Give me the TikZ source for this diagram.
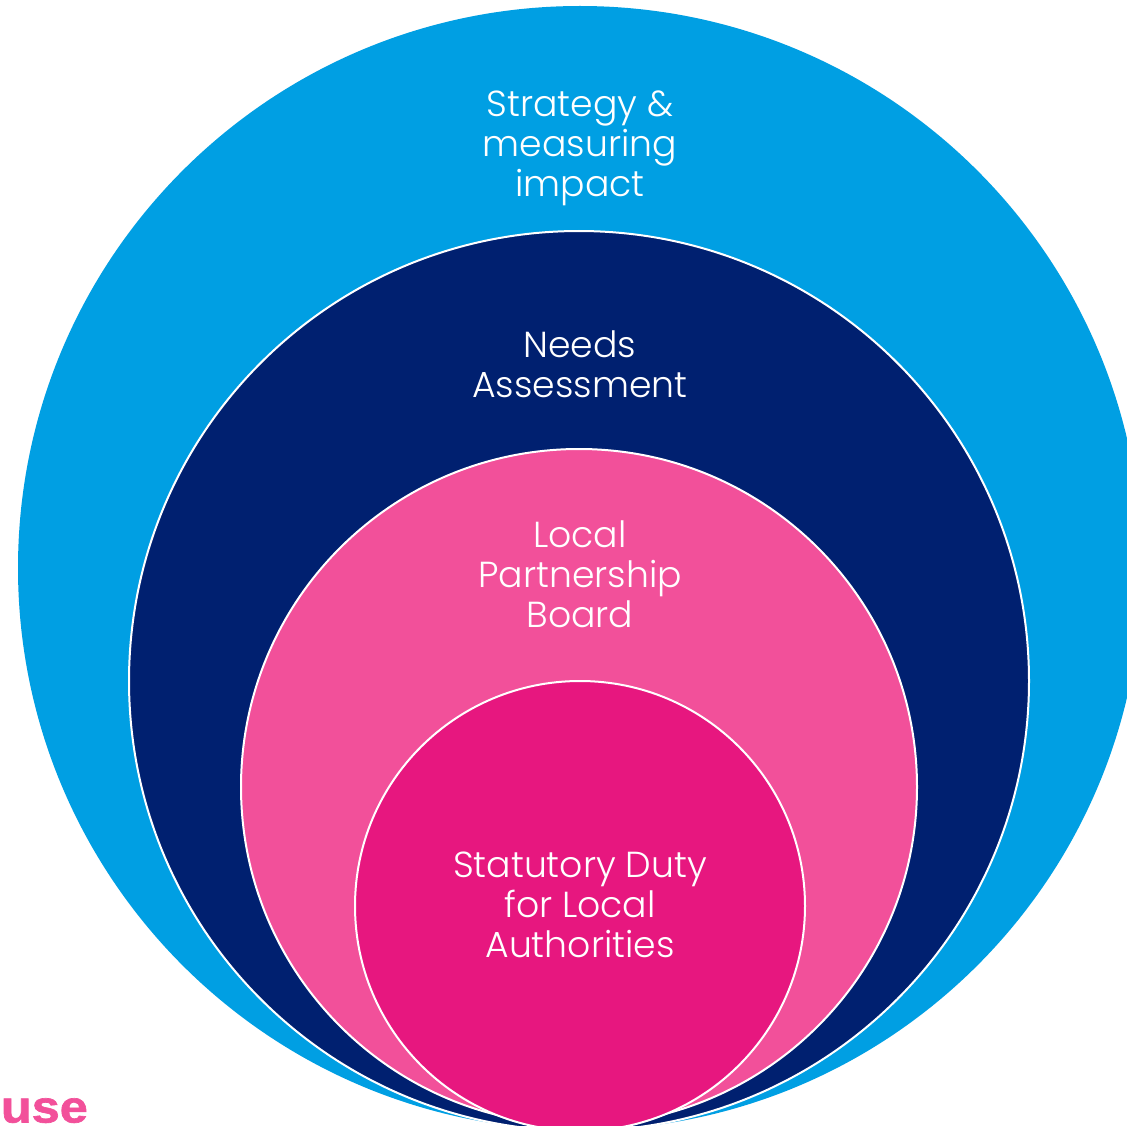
\documentclass[tikz,border=0pt]{standalone}
\usepackage{fontspec}
\setmainfont{Poppins Light}
\newfontfamily\logofont[FakeBold=1.5,FakeStretch=1.12]{Liberation Sans Bold}
\definecolor{skyc}{HTML}{009FE3}
\definecolor{navyc}{HTML}{002070}
\definecolor{rosec}{HTML}{F2509A}
\definecolor{magc}{HTML}{E7177F}
\tikzset{
  x=1pt,y=-1pt,
  ring/.style={circle,draw=white,line width=2pt,minimum size=#1,inner sep=0pt,outer sep=0pt},
  lbl/.style={text=white,align=center,font=\fontsize{36.2}{40}\selectfont,inner sep=0pt}
}
\begin{document}
\begin{tikzpicture}
\useasboundingbox (0,0) rectangle (1127,1126);
\clip (0,0) rectangle (1127,1126);
\fill[white] (0,0) rectangle (1127,1126);
\node[ring=1124pt,draw=none,fill=skyc] (outer) at (580,568) {};
\node[ring=900pt,fill=navyc] (needs) at (579,681) {};
\node[ring=676pt,fill=rosec] (board) at (579,787) {};
\node[ring=450pt,fill=magc] (duty) at (580,906) {};
\node[lbl] (t1) at (580,148) {Strategy \&\\measuring\\impact};
\node[lbl] (t2) at (580,364) {Needs\\Assessment};
\node[lbl] (t3) at (580,574) {Local\\Partnership\\Board};
\node[lbl] (t4) at (580,905) {Statutory Duty\\for Local\\Authorities};
\node[anchor=base east,inner sep=0pt,text=rosec,font=\logofont\fontsize{45}{45}\selectfont] (logo) at (88,1122.5) {use};
\end{tikzpicture}
\end{document}
